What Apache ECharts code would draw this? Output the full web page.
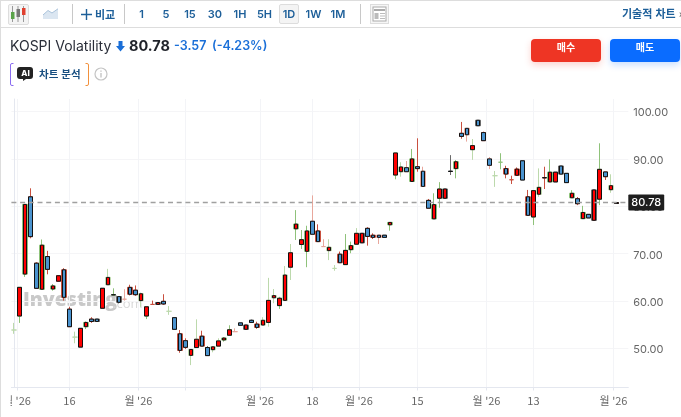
<!DOCTYPE html>
<html lang="ko"><head><meta charset="utf-8">
<script src="https://cdn.jsdelivr.net/npm/echarts@6/dist/echarts.min.js"></script>
<style>
html,body{margin:0;padding:0;background:#fff;width:681px;height:417px;overflow:hidden;font-family:Inter,"Noto Sans CJK KR",sans-serif}
#chart{position:absolute;left:0;top:0;width:681px;height:417px}
.a{position:absolute;white-space:nowrap}
.tb{font-size:11px;font-weight:600;color:#1d5f99;top:7px;height:14px;line-height:14px;transform:translateX(-50%)}
.sep{width:1px;background:#c8c8c8;top:4px;height:20px}
.btn{top:39px;height:23px;line-height:23px;text-align:center;color:#fff;font:700 10px "Noto Sans CJK KR",sans-serif;border-radius:4px}
</style></head><body>
<div id="chart"></div>
<div class="a" style="left:0;top:0;width:1px;height:417px;background:#ddd"></div>
<div class="a" style="left:0;top:0;width:681px;height:1px;background:#ddd"></div>
<div class="a" style="left:0;top:27px;width:681px;height:1px;background:#ddd"></div>
<div class="a" style="left:8px;top:4px;width:19px;height:19px;background:#f4f4f4;border:1px solid #ddd;border-radius:2px"></div>
<svg class="a" style="left:9px;top:5px" width="18" height="18"><path d="M3.5 1v16M9 1v16M14.5 1v16" stroke="#999"/><rect x="2" y="7" width="3.5" height="7" fill="#5aa24a"/><rect x="7.5" y="4" width="3.5" height="8" fill="#777"/><rect x="13" y="3" width="3.5" height="7" fill="#e0402f"/></svg>
<svg class="a" style="left:43px;top:8px" width="16" height="12"><path d="M0 7L5 2.5L9 5L15 .8V11H0Z" fill="#dbe6f1"/><path d="M0 7L5 2.5L9 5L15 .8" stroke="#a9c2da" fill="none"/></svg>
<div class="a sep" style="left:72px"></div>
<svg class="a" style="left:81px;top:9px" width="11" height="11"><path d="M5.5 0v11M0 5.5h11" stroke="#1d5f99" stroke-width="1.4"/></svg>
<div class="a tb" style="left:105px;font-family:'Noto Sans CJK KR'">비교</div>
<div class="a sep" style="left:124px"></div>
<div class="a" style="left:279px;top:4px;width:18px;height:18px;background:#f4f4f4;border:1px solid #ddd;border-radius:2px"></div>
<div class="a tb" style="left:141.5px">1</div>
<div class="a tb" style="left:166px">5</div>
<div class="a tb" style="left:190px">15</div>
<div class="a tb" style="left:215px">30</div>
<div class="a tb" style="left:240px">1H</div>
<div class="a tb" style="left:264.5px">5H</div>
<div class="a tb" style="left:289px">1D</div>
<div class="a tb" style="left:313.5px">1W</div>
<div class="a tb" style="left:338px">1M</div>
<div class="a sep" style="left:360px"></div>
<svg class="a" style="left:370px;top:4px" width="19" height="20"><rect x=".5" y=".5" width="18" height="19" fill="#f6f6f6" stroke="#ddd"/><rect x="3" y="3" width="13" height="14" fill="#fff" stroke="#aaa"/><rect x="4" y="5" width="11" height="2" fill="#aaa"/><rect x="4.5" y="9" width="4" height="6" fill="#bbb"/><path d="M10 9.5h5M10 12h5M10 14.5h5" stroke="#bbb"/></svg>
<div class="a" style="left:622px;top:6px;font:600 11px 'Noto Sans CJK KR',sans-serif;color:#1d5f99;line-height:14px">기술적 차트 <span style="color:#777">»</span></div>

<div class="a" style="left:10px;top:37px;font-size:14px;line-height:18px;color:#2a2e39">KOSPI Volatility</div>
<svg class="a" style="left:116px;top:41px" width="9" height="11"><path d="M2.5 0h4v5H9L4.5 10.5L0 5h2.5Z" fill="#1a6fd8"/></svg>
<div class="a" style="left:129px;top:37px;font-size:14.5px;font-weight:700;line-height:18px;color:#1f2229">80.78</div>
<div class="a" style="left:174px;top:37px;font-size:12.5px;font-weight:600;line-height:18px;color:#1a6fd8">-3.57</div>
<div class="a" style="left:212px;top:37px;font-size:12.5px;font-weight:600;line-height:18px;color:#1a6fd8">(-4.23%)</div>

<svg class="a" style="left:10px;top:63px" width="79" height="23"><path d="M3.5 .5H2Q.5 .5 .5 2V21Q.5 22.5 2 22.5H3.5" fill="none" stroke="#8a6cf0"/><path d="M75.5 .5H77Q78.5 .5 78.5 2V21Q78.5 22.5 77 22.5H75.5" fill="none" stroke="#f2913d"/><path d="M10 4h10q3 0 3 3v6q0 3-3 3h-4l-3 2v-2h-3q-3 0-3-3V7q0-3 3-3Z" fill="#222"/></svg>
<div class="a" style="left:21px;top:69px;width:9px;text-align:center;font-size:8px;font-weight:800;line-height:9px;color:#fff">AI</div>
<div class="a" style="left:39px;top:66px;font:700 10.5px 'Noto Sans CJK KR',sans-serif;line-height:16px;color:#174e80">차트 분석</div>
<svg class="a" style="left:94px;top:67px" width="14" height="14"><circle cx="7" cy="7" r="6" fill="none" stroke="#c4c4c4" stroke-width="1.2"/><path d="M7 6v4.5M7 3.4v1.3" stroke="#bbb" stroke-width="1.2"/></svg>

<div class="a btn" style="left:531px;width:70px;background:#ee3524;box-shadow:0 3px 7px rgba(238,53,36,.22)">매수</div>
<div class="a btn" style="left:610px;width:70px;background:#0a6cff;box-shadow:0 3px 7px rgba(10,108,255,.22)">매도</div>

<script>
// Red bodies rise (open below close), blue bodies fall, equal values are bare crosses.
const opens = [53.9,56.85,65.7,82.0,68.0,62.5,69.4,62.55,64.2,66.6,58.3,52.4,50.3,54.6,56.2,56.2,58.5,63.45,61.35,60.95,60.4,62.9,62.3,60.1,56.85,59.3,59.3,59.95,57.85,56.5,53.1,51.65,48.55,50.2,52.6,50.2,49.75,50.5,51.8,52.8,53.55,55.4,54.05,55.95,55.15,54.95,55.5,60.7,59.05,60.15,67.15,75.25,71.95,70.5,76.85,74.8,71.5,70.65,66.9,69.9,67.7,70.85,72,72.3,75.35,73.9,73.9,73.9,76.1,86.6,87.3,88.15,85.25,88.35,87.4,81.25,77.35,81.7,81.7,87.4,87.95,95.4,96.45,91.95,98.15,95.55,90,86.45,89.3,87.95,85.6,86.55,89.6,82,77.75,82.55,86.05,85.15,85.15,88.5,86.95,81.8,81.6,77.4,78.3,77.05,81.5,87.25,83.5,80.6];
const closes = [53.9,62.9,80.4,73.6,62.7,71.8,66.7,63.2,65.35,60.8,54.6,52.4,54.25,55.5,55.7,55.7,62.7,65.0,61.3,59.75,60.4,61.45,61.35,61.55,58.8,59.3,59.7,59.4,57.85,54.05,49.6,50.25,49.8,51.95,50.5,48.5,50.35,51.6,52.2,53.95,53.55,54.9,54.95,55.5,54.45,55.95,60.15,61.15,60.6,65.5,70.2,76.25,72.95,74.8,74.1,72.55,71.5,71.35,66.9,68.1,70.7,71.7,74.3,74.3,73.65,73.45,73.45,73.45,76.6,91.25,88.3,87.3,90,87.95,84.2,79.6,80.35,83.65,83.65,87.35,89.4,94.75,95.1,92.8,97,93.85,88.65,86.45,89.3,86.8,85.6,87.85,85.55,78.1,83.3,84,86,87.2,87.2,86.8,85,82.75,80.55,78.7,77.55,83.45,87.8,86.25,84.35,80.78];
const lows = [53.1,55.4,65.1,73.25,62.7,62.5,65.65,62.2,64.1,60.1,54.6,51.1,50.3,54.1,55.4,55.7,58.5,63.45,61.2,59.5,60.1,61.2,61.1,58.8,56.2,59.3,59.3,59.2,57.1,54.05,49.1,49.9,46.5,50.2,50.5,48.5,49.2,50.5,51.45,52.8,53.5,54.9,54.05,55.5,54.15,54.95,54.6,59.55,58.35,60.15,64.45,72.9,71,67.15,74.1,72.55,71.45,68.65,66.4,68.1,67.7,70.1,72,72.3,71.7,73.1,72.05,73.45,74.85,85.7,86.25,87.3,85.25,87.3,84.2,79.6,77.35,79.7,81.7,86.6,85.9,94.25,93.65,89.8,97,93.85,87.85,84.1,87.8,85.9,84.7,86.55,85.55,78.1,76.05,82,83.65,85.15,85.15,86.8,85,81.8,80.25,77.4,77.55,77.05,80.25,85.55,82.85,80.6];
const highs = [55.4,62.9,80.4,83.8,68.2,73.0,70.6,63.6,65.5,66.95,58.8,53.55,54.25,55.7,56.6,56.2,62.7,66.8,62.7,60.99,62.5,63.45,63.3,61.8,58.8,60.1,59.7,61.45,58.95,56.5,53.9,52.15,49.8,56.15,53.75,50.5,50.5,52.15,52.4,54.9,54.25,55.4,54.95,56.1,55.65,56.6,64.9,62.55,60.9,67.4,72.05,79.2,75,75.9,82.3,76.2,73.05,73.05,67.6,70.45,74.15,72.55,75.4,74.3,75.6,74.3,73.9,73.9,76.6,91.25,89.3,89.55,92.1,94.35,88.35,81.55,82.75,85.1,83.65,90.8,89.75,97.8,96.45,94.2,98.15,95.75,90.4,87.45,91.2,88.55,86.45,88.2,89.6,83.45,83.3,88,88.35,89.9,87.2,88.5,86.95,83.4,81.95,80.1,78.3,83.45,93.3,87.25,86.75,80.9];
// Wick tone per candle: l light green, g green, p pale red, r red, k dark grey.
const wickTones = ("lggrrgrgrr"+"rlkgrkklgk"+"prrlgrkrlk"+"rrllrkllgg"+"pkkkrlllgl"+"lgggprpllr"+"gglkrrpkgg"+"lpgrprggkk"+"grplkrplgr"+"rrkrglrgkk"+"kgrgkkgrlk").split("");
const priceTicks = [50,60,70,80,90,100];
const dateTicks = [0.5,10,22.5,31,44.5,54,62.4,73,85.5,94,108.5];
const dateLabels = {"0.5":"월 '26","10":"16","22.5":"월 '26","44.5":"월 '26","54":"18","62.4":"월 '26","73":"15","85.5":"월 '26","94":"13","108.5":"월 '26"};
const lastPrice = 80.78;
const toneColors = {l:"#bcd9ac",g:"#8fc27a",p:"#e8a79c",r:"#c9503f",k:"#6a6a6a"};

const chart = echarts.init(document.getElementById("chart"));
const wickData = opens.map((o,i)=>({value:[i,o,closes[i],lows[i],highs[i]],
  itemStyle:{color:toneColors[wickTones[i]],color0:toneColors[wickTones[i]],borderColor:toneColors[wickTones[i]],borderColor0:toneColors[wickTones[i]],borderColorDoji:toneColors[wickTones[i]]}}));
const bodyData = opens.map((o,i)=>o===closes[i]?[i,"-","-","-","-"]:[i,o,closes[i],Math.min(o,closes[i]),Math.max(o,closes[i])]);
chart.setOption({
  animation:false,
  textStyle:{fontFamily:'Inter,"Noto Sans CJK KR",sans-serif'},
  grid:{left:10,right:52.7,top:99,bottom:29.5},
  xAxis:{type:"value",min:-0.5,max:111.17,
    axisLine:{onZero:false,lineStyle:{color:"#e4e7ef"}},
    axisTick:{length:3,lineStyle:{color:"#e4e7ef"},customValues:dateTicks},
    splitLine:{show:true,lineStyle:{color:"#f3f4f7"}},
    axisLabel:{customValues:Object.keys(dateLabels).map(Number),hideOverlap:false,showMinLabel:true,showMaxLabel:true,color:"#666",fontSize:11,margin:8,fontFamily:'"Noto Sans CJK KR",sans-serif',formatter:v=>dateLabels[String(v)]||""}},
  yAxis:{type:"value",position:"right",min:41.77,max:102.64,
    axisLine:{show:true,lineStyle:{color:"#e4e7ef"}},
    axisTick:{show:false,customValues:priceTicks},
    splitLine:{show:true,lineStyle:{color:"#f5f5f7"}},
    axisLabel:{customValues:priceTicks,color:"#666",fontSize:11,margin:5,verticalAlign:"top",lineHeight:3,formatter:v=>v.toFixed(2)}},
  graphic:[
    {type:"text",z:-1,left:23,top:290,style:{text:"Investing",fill:"#c9c9c9",font:'800 19.5px "Open Sans",sans-serif'}},
    {type:"text",z:-1,left:113,top:298,style:{text:".com",fill:"#d8d8d8",font:'400 13px "Open Sans",sans-serif'}},
    {type:"rect",z:100,shape:{x:1,y:390,width:9.5,height:22},style:{fill:"#fff"}}
  ],
  series:[
    {name:"wicks",type:"candlestick",barWidth:5,data:wickData,silent:true,
     itemStyle:{borderWidth:1},z:2,
     markLine:{silent:true,symbol:"none",animation:false,z:5,
       lineStyle:{color:"#a0a0a0",type:[5,3.7],width:1.4},
       label:{position:"end",formatter:()=>lastPrice.toFixed(2),color:"#fff",backgroundColor:"#1e1e1e",fontSize:11,fontWeight:500,padding:[3,3,2,3],borderRadius:1,distance:0},
       data:[{yAxis:lastPrice}]}},
    {name:"KOSPI Volatility",type:"candlestick",barWidth:4,data:bodyData,z:3,
     itemStyle:{color:"#ff0000",color0:"#4a93cf",borderColor:"#111",borderColor0:"#111",borderColorDoji:"#111",borderWidth:1}}
  ]
});
</script>
</body></html>
